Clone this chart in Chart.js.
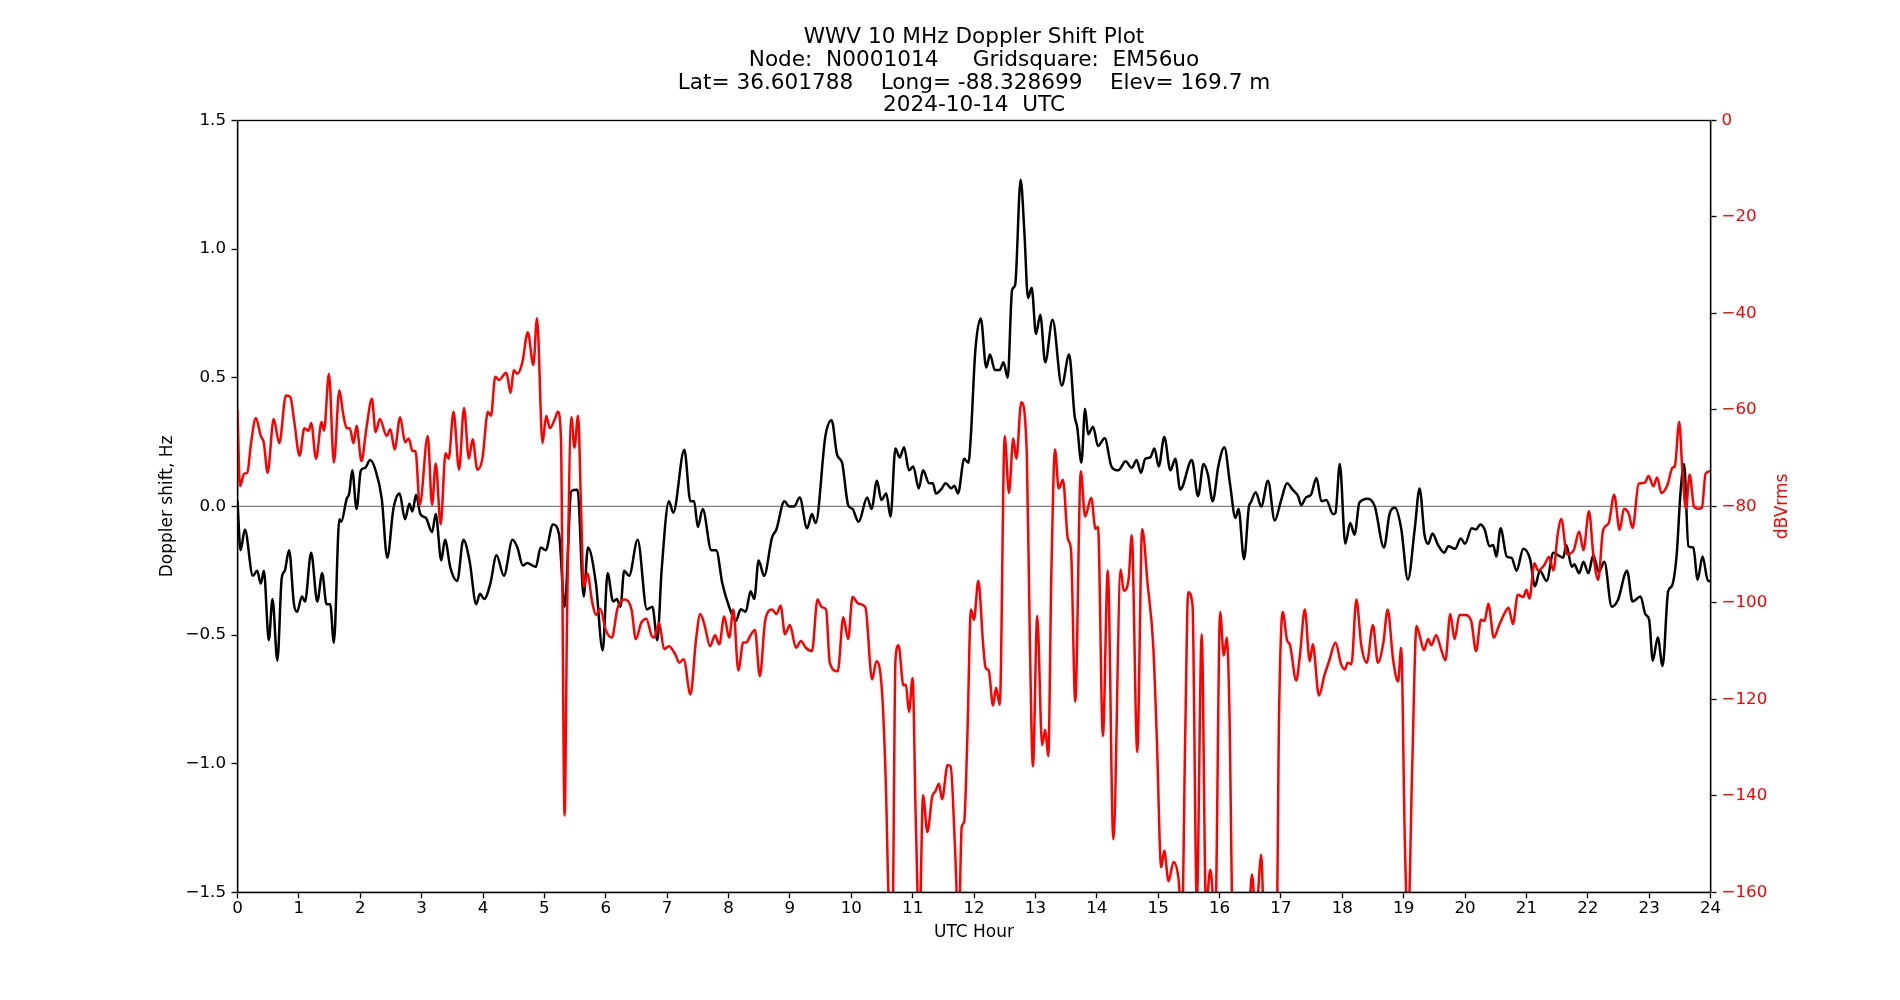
<!DOCTYPE html>
<html>
<head>
<meta charset="utf-8">
<script src="https://cdn.jsdelivr.net/npm/chart.js@4.4.1/dist/chart.umd.min.js"></script>
<style>
   html, body { margin: 0; padding: 0; background: #fff; }
   canvas { display: block; }
</style>
</head>
<body>
<canvas id="chart1" width="1900" height="1000"></canvas>
<script>
/*=================================>> DATA  <<=================================*/

const titleLines = [
   "WWV 10 MHz Doppler Shift Plot",
   "Node:  N0001014     Gridsquare:  EM56uo",
   "Lat= 36.601788    Long= -88.328699    Elev= 169.7 m",
   "2024-10-14  UTC"
];

// Doppler shift (Hz) against UTC hour
const dopplerHours = [
   0.00, 0.05, 0.12, 0.25, 0.32, 0.38, 0.43, 0.51, 0.57, 0.65, 0.72, 0.77, 0.84, 0.92, 0.97,
   1.05, 1.10, 1.20, 1.30, 1.38, 1.45, 1.51, 1.57, 1.66, 1.69, 1.78, 1.82, 1.87, 1.94,
   2.01, 2.08, 2.16, 2.25, 2.35, 2.44, 2.54, 2.64, 2.73, 2.80, 2.85, 2.91, 2.98,
   3.07, 3.17, 3.23, 3.32, 3.38, 3.47, 3.58, 3.68, 3.78, 3.89, 3.95,
   4.02, 4.12, 4.22, 4.34, 4.48, 4.56, 4.65, 4.72, 4.86, 4.94,
   5.02, 5.14, 5.24, 5.33, 5.44, 5.54, 5.64, 5.71, 5.84, 5.95,
   6.03, 6.12, 6.18, 6.24, 6.30, 6.38, 6.52, 6.67, 6.76, 6.84, 6.91,
   7.03, 7.10, 7.28, 7.38, 7.44, 7.50, 7.58, 7.72, 7.80, 7.90,
   8.01, 8.12, 8.20, 8.28, 8.36, 8.42, 8.49, 8.58, 8.71, 8.78, 8.91, 8.99,
   9.07, 9.16, 9.28, 9.36, 9.42, 9.58, 9.68, 9.77, 9.85, 9.95,
   10.02, 10.12, 10.26, 10.33, 10.42, 10.49, 10.57, 10.64, 10.72, 10.79, 10.86, 10.94,
   11.01, 11.10, 11.17, 11.27, 11.33, 11.38, 11.46, 11.54, 11.63, 11.68, 11.74, 11.84, 11.91, 11.95,
   12.02, 12.11, 12.20, 12.26, 12.34, 12.42, 12.48, 12.55, 12.62, 12.67, 12.76, 12.82, 12.88, 12.94,
   13.01, 13.08, 13.16, 13.28, 13.43, 13.55, 13.64, 13.68, 13.75, 13.81, 13.86, 13.94,
   14.02, 14.13, 14.24, 14.35, 14.47, 14.57, 14.65, 14.72, 14.79, 14.87, 14.94,
   15.01, 15.10, 15.20, 15.28, 15.36, 15.55, 15.65, 15.74, 15.81, 15.89, 15.98,
   16.08, 16.17, 16.26, 16.31, 16.40, 16.48, 16.51, 16.59, 16.68, 16.79, 16.90,
   17.00, 17.10, 17.19, 17.28, 17.33, 17.41, 17.49, 17.58, 17.66, 17.74, 17.85, 17.89, 17.96,
   18.05, 18.13, 18.20, 18.28, 18.42, 18.53, 18.68, 18.77, 18.86, 18.96,
   19.07, 19.18, 19.26, 19.34, 19.40, 19.47, 19.56, 19.66, 19.73, 19.84, 19.93,
   20.00, 20.11, 20.18, 20.25, 20.32, 20.40, 20.46, 20.51, 20.58, 20.68, 20.76, 20.84, 20.95,
   21.06, 21.14, 21.22, 21.33, 21.44, 21.52, 21.60, 21.65, 21.74, 21.78, 21.86, 21.93,
   22.01, 22.09, 22.18, 22.27, 22.39, 22.49, 22.64, 22.73, 22.86, 22.94,
   23.00, 23.06, 23.14, 23.22, 23.31, 23.37, 23.45, 23.51, 23.57, 23.64, 23.72, 23.79, 23.87, 23.96, 24.00
];
const dopplerHz = [
   0.02, -0.17, -0.09, -0.27, -0.25, -0.30, -0.25, -0.52, -0.36, -0.60, -0.28, -0.25, -0.17, -0.38, -0.41,
   -0.35, -0.37, -0.18, -0.37, -0.26, -0.38, -0.38, -0.53, -0.05, -0.06, 0.03, 0.05, 0.14, -0.01,
   0.14, 0.15, 0.18, 0.14, 0.03, -0.20, -0.01, 0.05, -0.05, 0.01, -0.02, 0.045, -0.03,
   -0.045, -0.10, -0.03, -0.21, -0.13, -0.24, -0.29, -0.13, -0.21, -0.38, -0.34,
   -0.36, -0.30, -0.19, -0.27, -0.13, -0.16, -0.23, -0.22, -0.235, -0.16,
   -0.17, -0.07, -0.11, -0.39, 0.06, 0.065, -0.35, -0.16, -0.30, -0.56,
   -0.26, -0.37, -0.36, -0.39, -0.25, -0.27, -0.13, -0.40, -0.39, -0.52, -0.25,
   0.02, -0.025, 0.22, 0.02, 0.02, -0.08, -0.01, -0.17, -0.17, -0.30,
   -0.39, -0.445, -0.40, -0.41, -0.33, -0.36, -0.21, -0.27, -0.12, -0.09, 0.02, 0.00,
   0.00, 0.035, -0.085, -0.03, -0.065, 0.275, 0.335, 0.20, 0.17, 0.005,
   -0.01, -0.06, 0.035, -0.01, 0.10, 0.025, 0.05, -0.04, 0.225, 0.19, 0.23, 0.14,
   0.155, 0.07, 0.14, 0.09, 0.09, 0.05, 0.065, 0.09, 0.07, 0.08, 0.05, 0.185, 0.17, 0.28,
   0.60, 0.73, 0.54, 0.59, 0.53, 0.53, 0.56, 0.50, 0.84, 0.86, 1.27, 1.07, 0.81, 0.85,
   0.67, 0.745, 0.56, 0.725, 0.47, 0.59, 0.35, 0.31, 0.17, 0.38, 0.28, 0.31,
   0.235, 0.265, 0.155, 0.14, 0.175, 0.15, 0.18, 0.13, 0.185, 0.19, 0.225,
   0.155, 0.27, 0.14, 0.185, 0.065, 0.18, 0.04, 0.165, 0.125, 0.02, 0.155,
   0.23, 0.09, -0.045, -0.01, -0.205, 0.00, 0.015, 0.055, 0.00, 0.10, -0.055,
   0.02, 0.09, 0.065, 0.04, 0.005, 0.035, 0.045, 0.11, 0.02, 0.025, -0.03, -0.025, 0.165,
   -0.145, -0.065, -0.11, 0.015, 0.03, 0.00, -0.16, -0.03, -0.005, -0.085,
   -0.285, -0.09, 0.07, -0.11, -0.145, -0.105, -0.15, -0.18, -0.155, -0.165, -0.125,
   -0.145, -0.085, -0.09, -0.07, -0.09, -0.155, -0.15, -0.195, -0.085, -0.195, -0.20, -0.25, -0.165,
   -0.205, -0.31, -0.25, -0.29, -0.18, -0.19, -0.20, -0.15, -0.235, -0.225, -0.26, -0.215,
   -0.26, -0.19, -0.255, -0.215, -0.39, -0.365, -0.25, -0.37, -0.35, -0.42,
   -0.44, -0.60, -0.51, -0.62, -0.33, -0.31, -0.185, 0.05, 0.165, -0.155, -0.16, -0.285, -0.195, -0.29, -0.29
];

// Received level (dBVrms) against UTC hour; values under -160 run off the plot
const powerHours = [
   0.00, 0.04, 0.11, 0.16, 0.22, 0.30, 0.38, 0.43, 0.49, 0.59, 0.68, 0.79, 0.86, 0.93,
   1.01, 1.09, 1.16, 1.20, 1.28, 1.37, 1.41, 1.49, 1.57, 1.66, 1.72, 1.78, 1.83, 1.89, 1.94,
   2.02, 2.10, 2.19, 2.25, 2.32, 2.43, 2.49, 2.56, 2.65, 2.73, 2.79, 2.85, 2.90, 2.97,
   3.10, 3.17, 3.23, 3.31, 3.39, 3.44, 3.52, 3.61, 3.69, 3.77, 3.83, 3.91, 3.99,
   4.08, 4.13, 4.20, 4.26, 4.38, 4.45, 4.50, 4.56, 4.64, 4.73, 4.82, 4.88, 4.97,
   5.03, 5.09, 5.17, 5.22, 5.27, 5.33, 5.37, 5.44, 5.49, 5.55, 5.60, 5.64, 5.70, 5.78, 5.84, 5.91,
   6.00, 6.10, 6.19, 6.30, 6.42, 6.49, 6.58, 6.66, 6.75, 6.79, 6.87, 6.95,
   7.03, 7.13, 7.20, 7.27, 7.38, 7.47, 7.54, 7.61, 7.70, 7.78, 7.85, 7.93,
   8.01, 8.08, 8.16, 8.24, 8.29, 8.36, 8.43, 8.51, 8.60, 8.71, 8.78, 8.85, 8.92,
   9.00, 9.10, 9.18, 9.26, 9.36, 9.45, 9.52, 9.59, 9.65, 9.78, 9.87, 9.95,
   10.02, 10.12, 10.23, 10.34, 10.41, 10.50, 10.56, 10.62, 10.67, 10.72, 10.77, 10.85, 10.89, 10.94,
   11.00, 11.05, 11.11, 11.17, 11.24, 11.32, 11.37, 11.43, 11.48, 11.57, 11.62, 11.69, 11.75, 11.80, 11.84, 11.89, 11.95,
   12.00, 12.07, 12.15, 12.19, 12.24, 12.31, 12.36, 12.42, 12.50, 12.57, 12.64, 12.69, 12.77, 12.86, 12.91, 12.96,
   13.03, 13.11, 13.16, 13.21, 13.26, 13.32, 13.38, 13.45, 13.53, 13.58, 13.65, 13.74, 13.81, 13.91, 13.98,
   14.02, 14.10, 14.18, 14.27, 14.39, 14.44, 14.52, 14.57, 14.66, 14.74, 14.83, 14.92, 14.98,
   15.05, 15.10, 15.17, 15.25, 15.33, 15.39, 15.44, 15.49, 15.56, 15.63, 15.71, 15.78, 15.85, 15.93,
   16.01, 16.07, 16.12, 16.16, 16.22, 16.46, 16.53, 16.59, 16.68, 16.73, 16.93, 16.97,
   17.03, 17.10, 17.15, 17.25, 17.31, 17.39, 17.47, 17.52, 17.62, 17.71, 17.79, 17.89, 17.98,
   18.04, 18.09, 18.15, 18.23, 18.31, 18.40, 18.50, 18.58, 18.67, 18.74, 18.83, 18.91, 18.96,
   19.02, 19.07, 19.14, 19.21, 19.26, 19.33, 19.40, 19.45, 19.53, 19.61, 19.68, 19.76, 19.83, 19.91,
   20.00, 20.10, 20.18, 20.26, 20.32, 20.38, 20.47, 20.55, 20.65, 20.71, 20.78, 20.86, 20.95,
   21.00, 21.05, 21.13, 21.19, 21.29, 21.37, 21.44, 21.51, 21.57, 21.66, 21.77, 21.86, 21.93,
   22.02, 22.09, 22.17, 22.25, 22.34, 22.43, 22.52, 22.59, 22.67, 22.73, 22.83, 22.93, 22.99,
   23.07, 23.13, 23.20, 23.30, 23.38, 23.42, 23.49, 23.54, 23.60, 23.66, 23.73, 23.80, 23.86, 23.92, 24.00
];
const powerDb = [
   -60, -75.8, -73.2, -73, -66.9, -61.7, -65.4, -66.9, -73, -61.9, -66.9, -57, -57.3, -62.9,
   -69.5, -63.8, -64.3, -62.7, -70.1, -62.5, -64.3, -52.5, -70.9, -55.9, -60.7, -63.8, -63.8, -66.9, -63.3,
   -70.6, -63.8, -57.7, -64.6, -61.9, -65.4, -64, -68.2, -61.5, -66.7, -65.9, -68.5, -68.5, -79.7,
   -65.4, -79.7, -71.1, -83.7, -69, -70.1, -60.4, -72.4, -59.6, -70.1, -66.1, -72.4, -70.1,
   -60.4, -61.2, -53.1, -53.8, -52.3, -56.5, -51.8, -52.5, -50.2, -43.9, -50.7, -41, -66.9,
   -61.2, -63.8, -61.9, -60.4, -65.9, -144.1, -102.5, -61.5, -67.8, -61.2, -81.6, -96.7, -93.9, -99.9, -102.5, -101.2,
   -105.6, -107.2, -101.2, -99.3, -101.4, -107.5, -104.1, -103.3, -106.9, -107.2, -104.1, -109.6,
   -109, -110.6, -112.4, -111.7, -119, -107.7, -102.3, -104.6, -109, -106.7, -108.6, -102.8,
   -107.2, -101.4, -114, -108.2, -108.2, -106.7, -105.6, -115.2, -103.5, -101.4, -102.3, -100.6, -106.5,
   -104.6, -109.3, -107.9, -109.3, -110, -99.3, -100.9, -101.4, -112.4, -114.2, -103, -107.5,
   -98.8, -100.2, -100.9, -115.9, -112.1, -118.2, -136, -165, -168, -111.9, -108.8, -117.1, -116.9, -122.6,
   -115.6, -144.3, -168, -139.9, -147.5, -140.1, -139.1, -137.5, -140.7, -133.6, -133.9, -150.6, -168, -146.4, -145.4, -128.6, -101.4,
   -103.5, -95.4, -108.8, -113.5, -114, -121.3, -117.6, -121.1, -65.4, -77.2, -65.9, -70.1, -58.4, -69, -107.7, -133.9,
   -102.7, -129.5, -126.3, -131.8, -94.1, -68.2, -76.3, -74.5, -86.8, -88.9, -120.5, -72.7, -82.1, -78.2, -84.7,
   -84.2, -127.6, -93.3, -149, -93.1, -97.5, -95, -86, -130.9, -84.7, -96.2, -108.8, -128.6,
   -154.8, -151.4, -157.7, -153.7, -156.9, -166, -128.6, -97.8, -100.4, -162, -106.5, -163, -155.3, -166,
   -101.9, -110.9, -107.2, -121.3, -168, -168, -156.3, -166, -152.2, -168, -168, -123.4,
   -101.9, -107.7, -108.8, -116.1, -110.9, -101.4, -112.1, -108.6, -119.2, -115, -111.9, -108.2, -112.7,
   -113.8, -112.4, -112.7, -99.3, -108.8, -112.4, -104.6, -112.4, -108.2, -101.4, -111.9, -116.3, -109.3,
   -149.6, -168, -133.9, -104.8, -106.7, -109.8, -107.5, -108.8, -106.7, -109.6, -111.9, -102.3, -107.5, -102.5,
   -102.5, -103.7, -110, -103.5, -103.7, -100.2, -107.2, -104.8, -102, -101, -104.4, -98.3, -98.8,
   -97.3, -99.1, -91.8, -93.3, -92.2, -90.5, -93.3, -85.8, -82.6, -89.9, -89.1, -85.2, -89.1,
   -81, -89.9, -95.2, -84.9, -83.5, -77.6, -84.9, -80.5, -81.6, -84.5, -75.3, -75.1, -73.7,
   -75.8, -74, -77.2, -75.5, -72, -71.6, -62.5, -72.2, -80.5, -73.4, -80, -80.5, -80.3, -73.2, -72.7
];

const zeroLineHours = [0, 24];
const zeroLineHz = [0, 0];

/*=================================>> CHART  <<=================================*/

const FONT = "DejaVu Sans";

function toPoints(xs, ys) {
   return xs.map((x, i) => ({ x: x, y: ys[i] }));
}

function minusSign(text) {
   return String(text).replace("-", "\u2212");
}

// box round the plot and the right axis label, drawn like matplotlib does
const framePlugin = {
   id: "frame",
   afterDatasetsDraw(chart) {
      const { ctx, chartArea } = chart;
      ctx.save();
      ctx.strokeStyle = "#000";
      ctx.lineWidth = 1.33;
      ctx.strokeRect(chartArea.left, chartArea.top,
         chartArea.right - chartArea.left, chartArea.bottom - chartArea.top);
      ctx.restore();
   },
   afterDraw(chart) {
      const { ctx, chartArea } = chart;
      ctx.save();
      ctx.translate(1782.5, (chartArea.top + chartArea.bottom) / 2);
      ctx.rotate(-Math.PI / 2);
      ctx.fillStyle = "#ff0000";
      ctx.font = `17px "${FONT}"`;
      ctx.textAlign = "center";
      ctx.textBaseline = "middle";
      ctx.fillText("dBVrms", 0, 0);
      ctx.restore();
   }
};

function drawChart(canva) {
   const tickGrid = {
      display: true,
      drawOnChartArea: false,
      drawTicks: true,
      tickLength: 6,
      tickWidth: 1.33,
      tickColor: "#000",
   };
   const tickFont = { size: 16.7, family: FONT, lineHeight: 1.2 };
   const labelFont = { size: 17, family: FONT, lineHeight: 1.2 };
   const config = {
      type: "line",
      data: {
         datasets: [
         {
            label: "zero",
            data: toPoints(zeroLineHours, zeroLineHz),
            yAxisID: "yHz",
            borderColor: "#808080",
            borderWidth: 1.2,
            pointRadius: 0,
            order: 3,
         },
         {
            label: "Doppler shift",
            data: toPoints(dopplerHours, dopplerHz),
            yAxisID: "yHz",
            borderColor: "#000000",
            borderWidth: 2.5,
            pointRadius: 0,
            cubicInterpolationMode: "monotone",
            order: 2,
         },
         {
            label: "dBVrms",
            data: toPoints(powerHours, powerDb),
            yAxisID: "yDb",
            borderColor: "#ff0000",
            borderWidth: 2.5,
            pointRadius: 0,
            cubicInterpolationMode: "monotone",
            order: 1,
         },
      ]},
      options: {
         responsive: false,
         animation: false,
         devicePixelRatio: 1,
         layout: {
            // extra left padding centres the title over the plot, as matplotlib does
            padding: { left: 48, right: 0, top: 0, bottom: 0 }
         },
         elements: {
            line: { borderJoinStyle: "round", borderCapStyle: "round" }
         },
         plugins: {
            legend: { display: false },
            tooltip: { enabled: false },
            title: {
               display: true,
               text: titleLines,
               color: "#000",
               font: { size: 21.6, family: FONT, weight: "normal", lineHeight: 1.06 },
               padding: { top: 25.7, bottom: 3.2 }
            }
         },
         scales: {
            x: {
               type: "linear",
               min: 0,
               max: 24,
               afterFit: (scale) => { scale.height = 107.7; },
               border: { display: true, color: "#000", width: 1.33 },
               grid: tickGrid,
               ticks: {
                  stepSize: 1,
                  color: "#000",
                  padding: 0.5,
                  maxRotation: 0,
                  autoSkip: false,
                  font: tickFont,
                  callback: (v) => String(v)
               },
               title: {
                  display: true,
                  text: "UTC Hour",
                  color: "#000",
                  font: labelFont,
                  padding: { top: 0, bottom: 57.5 }
               }
            },
            yHz: {
               type: "linear",
               position: "left",
               min: -1.5,
               max: 1.5,
               afterFit: (scale) => { scale.width = 189.5; },
               border: { display: true, color: "#000", width: 1.33 },
               grid: tickGrid,
               ticks: {
                  stepSize: 0.5,
                  color: "#000",
                  padding: 5.5,
                  font: tickFont,
                  callback: (v) => minusSign(v.toFixed(1))
               },
               title: {
                  display: true,
                  text: "Doppler shift, Hz",
                  color: "#000",
                  font: labelFont,
                  padding: { top: 109.5, bottom: 0 }
               }
            },
            yDb: {
               type: "linear",
               position: "right",
               min: -160,
               max: 0,
               afterFit: (scale) => { scale.width = 189.5; },
               border: { display: true, color: "#000", width: 1.33 },
               grid: tickGrid,
               ticks: {
                  stepSize: 20,
                  color: "#ff0000",
                  padding: 5,
                  font: tickFont,
                  callback: (v) => minusSign(v)
               }
            }
         }
      },
      plugins: [framePlugin]
   };
   return new Chart(canva, config);
}

(function main() {
   const canva = document.querySelector("#chart1");
   drawChart(canva);
})();
</script>
</body>
</html>
